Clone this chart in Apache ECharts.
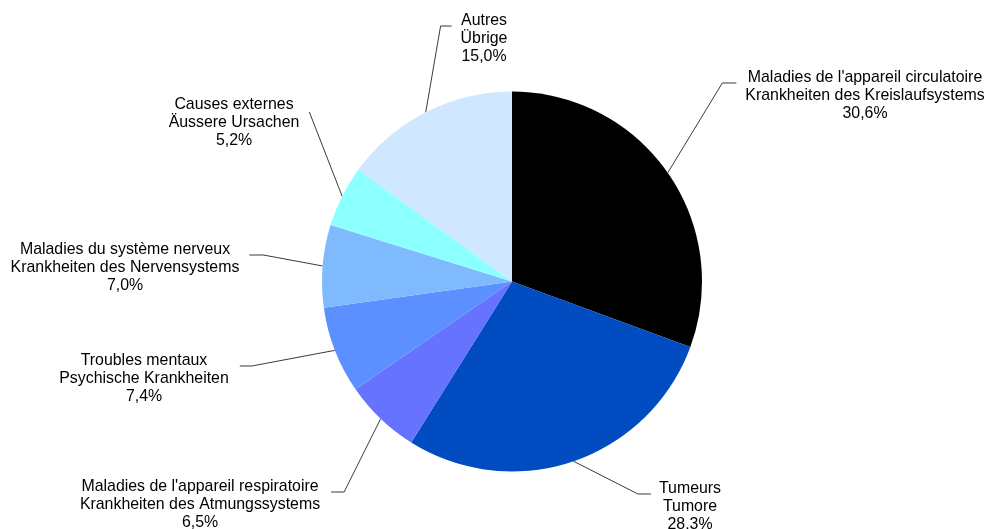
<!DOCTYPE html>
<html>
<head>
<meta charset="utf-8">
<script src="https://cdn.jsdelivr.net/npm/echarts@6/dist/echarts.min.js"></script>
<style>
html,body{margin:0;padding:0;background:#fff;}
#chart{width:987px;height:529px;}
</style>
</head>
<body>
<div id="chart"></div>
<script>
// ---- data ----
const namesFr = [
  "Maladies de l'appareil circulatoire",
  "Tumeurs",
  "Maladies de l'appareil respiratoire",
  "Troubles mentaux",
  "Maladies du système nerveux",
  "Causes externes",
  "Autres"
];
const namesDe = [
  "Krankheiten des Kreislaufsystems",
  "Tumore",
  "Krankheiten des Atmungssystems",
  "Psychische Krankheiten",
  "Krankheiten des Nervensystems",
  "Äussere Ursachen",
  "Übrige"
];
const shares = [30.6, 28.3, 6.5, 7.4, 7.0, 5.2, 15.0];

// ---- styles / layout ----
const colors = ['#000000', '#004CC0', '#6673FF', '#5C8FFF', '#7FBAFF', '#8CFFFF', '#D0E8FF'];
const labelCenterX = [865, 690, 200, 144, 125, 234, 484];
const labelTopY = [69, 480, 478, 352, 241, 96, 12];
const labelSide = ['r', 'r', 'l', 'l', 'l', 'l', 'r'];
const labelGap = [9, 8, 11, 11, 10, 10, 9];
const labelTick = [14, 13, 13, 12, 14, 0, 11];
const anchorDy = [14, 14, 14, 14, 14, 16, 14];

const chart = echarts.init(document.getElementById('chart'), null, {renderer: 'canvas'});

const data = shares.map((v, i) => ({
  value: v,
  name: namesFr[i] + '\n' + namesDe[i],
  itemStyle: {color: colors[i]}
}));

chart.setOption({
  animation: false,
  backgroundColor: '#ffffff',
  series: [{
    type: 'pie',
    center: [512, 281.5],
    radius: 190,
    startAngle: 90,
    clockwise: true,
    avoidLabelOverlap: false,
    data: data,
    itemStyle: {borderWidth: 0},
    emphasis: {disabled: true},
    label: {
      show: true,
      position: 'outside',
      fontFamily: 'Liberation Sans, Arial, sans-serif',
      fontSize: 15.9,
      lineHeight: 18,
      color: '#000',
      align: 'center',
      formatter: p => p.name + '\n' + p.value.toFixed(1).replace('.', ',') + '%'
    },
    labelLine: {
      show: true,
      length: 10,
      length2: 10,
      smooth: false,
      lineStyle: {color: '#3a3a3a', width: 1}
    },
    labelLayout: function (params) {
      const i = params.dataIndex;
      const w = params.labelRect.width;
      const left = labelCenterX[i] - w / 2;
      const right = labelCenterX[i] + w / 2;
      const ay = labelTopY[i] + anchorDy[i];
      const start = params.labelLinePoints[0];
      let pts;
      if (labelSide[i] === 'r') {
        pts = [start, [left - labelGap[i] - labelTick[i], ay], [left - labelGap[i], ay]];
      } else {
        pts = [start, [right + labelGap[i] + labelTick[i], ay], [right + labelGap[i], ay]];
      }
      return {
        x: labelCenterX[i],
        y: labelTopY[i],
        align: 'center',
        verticalAlign: 'top',
        labelLinePoints: pts
      };
    }
  }]
});
</script>
</body>
</html>
